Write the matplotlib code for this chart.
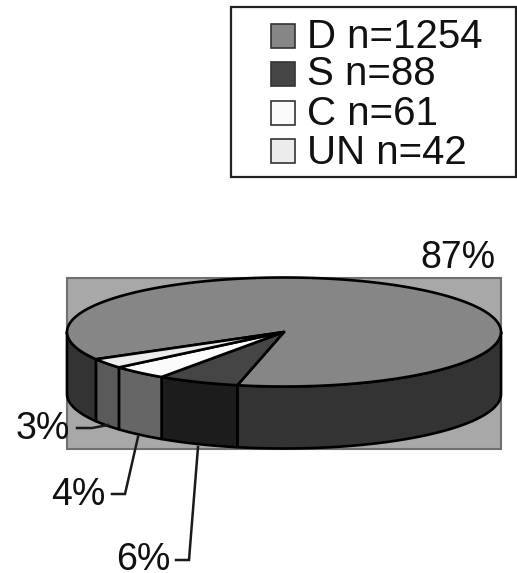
import numpy as np
import matplotlib
matplotlib.use("Agg")
import matplotlib.pyplot as plt
from matplotlib.patches import Rectangle, Polygon

plt.rcParams['font.family'] = ['Liberation Sans', 'DejaVu Sans']

# Data
categories = ['D', 'S', 'C', 'UN']
counts = [1254, 88, 61, 42]
percent_labels = ['87%', '6%', '4%', '3%']
top_colors = ['#868686', '#454545', '#fbfbfb', '#ececec']
side_colors = ['#333333', '#1c1c1c', '#666666', '#5a5a5a']

W, H = 517, 573
fig = plt.figure(figsize=(W / 100, H / 100), dpi=100)
ax = fig.add_axes([0, 0, 1, 1])
ax.set_xlim(0, W)
ax.set_ylim(H, 0)
ax.axis('off')

# Plot-area backdrop
ax.add_patch(Rectangle((67, 278), 434, 171, fc='#a8a8a8', ec='#707070', lw=1.5, zorder=1))

# Pie geometry (pixel space)
cx, cy, rx, ry, depth = 284, 332, 217, 54.5, 62
START = 210.0  # degrees; slices run clockwise in the picture


def rim(a0, a1, n=120):
    t = np.radians(np.linspace(a0, a1, n))
    return cx + rx * np.cos(t), cy - ry * np.sin(t)


fracs = np.array(counts) / np.sum(counts)
edges = START - np.concatenate([[0], np.cumsum(fracs)]) * 360
edge_kw = dict(ec='black', lw=1.9, joinstyle='round')

# Side wall: only the front half (180..360 deg) is visible
for i in range(len(counts)):
    hi, lo = edges[i], edges[i + 1]
    for shift in (0, -360, 360):
        a = min(hi + shift, 360)
        b = max(lo + shift, 180)
        if a > b and a > 180 and b < 360:
            x, y = rim(a, b)
            pts = np.r_[np.c_[x, y], np.c_[x[::-1], y[::-1] + depth]]
            ax.add_patch(Polygon(pts, closed=True, fc=side_colors[i], zorder=3, **edge_kw))

# Top face
for i in range(len(counts)):
    x, y = rim(edges[i], edges[i + 1], 300)
    pts = np.r_[[[cx, cy]], np.c_[x, y]]
    ax.add_patch(Polygon(pts, closed=True, fc=top_colors[i], zorder=4, **edge_kw))

# Percent labels and leader lines
lab_fs = 27
ax.text(496, 268, percent_labels[0], fontsize=lab_fs, ha='right', va='baseline', color='#111111', zorder=6)
ax.text(70, 439, percent_labels[3], fontsize=lab_fs, ha='right', va='baseline', color='#111111', zorder=6)
ax.text(106, 505, percent_labels[2], fontsize=lab_fs, ha='right', va='baseline', color='#111111', zorder=6)
ax.text(171, 570, percent_labels[1], fontsize=lab_fs, ha='right', va='baseline', color='#111111', zorder=6)
line_kw = dict(color='#1a1a1a', lw=1.8, zorder=5, solid_joinstyle='miter')
ax.plot([77, 92, 108], [428, 428, 425], **line_kw)
ax.plot([112, 125, 138], [494, 494, 437], **line_kw)
ax.plot([176, 189, 198], [560, 560, 447], **line_kw)

# Legend
ax.add_patch(Rectangle((231, 7), 285, 170, fc='white', ec='#222222', lw=1.6, zorder=2))
swatch_y = [24, 62, 101, 139]
base_y = [48, 85, 125, 164]
for cat, n, col, sy, by in zip(categories, counts, top_colors, swatch_y, base_y):
    ax.add_patch(Rectangle((271, sy), 24, 24, fc=col, ec='#333333', lw=1.2, zorder=3))
    ax.text(307, by, f'{cat} n={n}', fontsize=29, ha='left', va='baseline', color='#111111', zorder=3)

fig.savefig('out.png', dpi=100)
